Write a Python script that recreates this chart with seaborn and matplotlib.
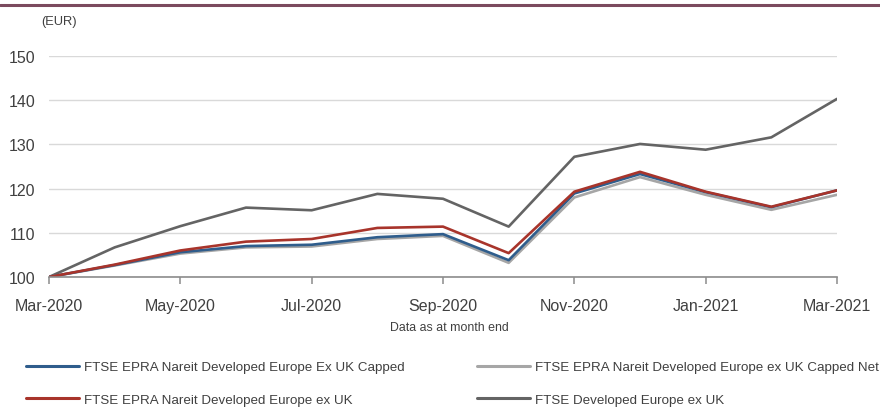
import numpy as np
import pandas as pd
import seaborn as sns
import matplotlib.pyplot as plt
from matplotlib.lines import Line2D

# month labels (month end values)
months = ['Mar-2020', 'Apr-2020', 'May-2020', 'Jun-2020', 'Jul-2020', 'Aug-2020', 'Sep-2020',
          'Oct-2020', 'Nov-2020', 'Dec-2020', 'Jan-2021', 'Feb-2021', 'Mar-2021']

# index levels, rebased to 100
capped = [100, 102.7, 105.6, 107.0, 107.3, 109.0, 109.7, 103.8, 118.9, 123.3, 119.2, 115.8, 119.6]
capped_net = [100, 102.6, 105.3, 106.7, 106.9, 108.6, 109.3, 103.2, 118.0, 122.6, 118.6, 115.2, 118.6]
epra = [100, 102.8, 106.0, 108.0, 108.6, 111.1, 111.4, 105.4, 119.3, 123.8, 119.3, 115.9, 119.6]
developed = [100, 106.7, 111.5, 115.7, 115.1, 118.8, 117.7, 111.4, 127.2, 130.1, 128.8, 131.6, 140.3]

series_names = ['FTSE EPRA Nareit Developed Europe Ex UK Capped',
                'FTSE EPRA Nareit Developed Europe ex UK Capped Net',
                'FTSE EPRA Nareit Developed Europe ex UK',
                'FTSE Developed Europe ex UK']
series_colors = ['#2f5d8c', '#a6a6a6', '#a8342b', '#646464']

sns.set_style('white')
plt.rcParams['font.family'] = ['Liberation Sans', 'DejaVu Sans']

# long table for seaborn
frames = []
for name, vals in zip(series_names, [capped, capped_net, epra, developed]):
    frames.append(pd.DataFrame({'Month': months, 'Value': vals, 'Series': name}))
df = pd.concat(frames, ignore_index=True)

fig = plt.figure(figsize=(8.8, 4.1), dpi=100)
ax = fig.add_axes([49 / 880, 1 - 278 / 410, (837 - 49) / 880, (278 - 57) / 410])

# draw order: dark grey, light grey, blue, red on top
draw_order = [3, 1, 0, 2]
for i in draw_order:
    sub = df[df['Series'] == series_names[i]]
    sns.lineplot(data=sub, x='Month', y='Value', color=series_colors[i], lw=1.9,
                 sort=False, ax=ax, zorder=3 + draw_order.index(i))

ax.set_xlim(0, len(months) - 1)
ax.set_ylim(100, 150)
ax.set_yticks([100, 110, 120, 130, 140, 150])
ax.set_xticks(range(0, len(months), 2))
ax.set_xticklabels(months[::2])
ax.set_xlabel('')
ax.set_ylabel('')

ax.grid(axis='y', color='#d9d9d9', lw=1.0)
ax.grid(axis='x', visible=False)
for side in ['left', 'right', 'top']:
    ax.spines[side].set_visible(False)
ax.spines['bottom'].set_color('#8c8c8c')
ax.spines['bottom'].set_linewidth(1.2)
ax.spines['bottom'].set_zorder(10)

ax.tick_params(axis='x', length=5, width=1.1, color='#8c8c8c', pad=10,
               labelsize=11.5, labelcolor='#404040', direction='out', bottom=True)
ax.tick_params(axis='y', length=0, pad=10, labelsize=11.5, labelcolor='#404040')

fig.text(41 / 880, 1 - 22 / 410, '(EUR)', fontsize=9.3, color='#404040', va='center', ha='left')
fig.text(449 / 880, 1 - 328 / 410, 'Data as at month end', fontsize=8.9, color='#404040',
         va='center', ha='center')

# top rule
fig.add_artist(Line2D([0, 1], [1 - 6 / 410, 1 - 6 / 410], color='#7b4a5e', lw=2.2))

handles = [Line2D([], [], color=series_colors[i], lw=2.2) for i in range(4)]
fig.legend([handles[0], handles[2], handles[1], handles[3]],
           [series_names[0], series_names[2], series_names[1], series_names[3]],
           ncol=2, loc='upper left', bbox_to_anchor=(26 / 880, 1 - 362 / 410),
           frameon=False, fontsize=9.6, handlelength=4.0, handletextpad=0.35,
           labelspacing=1.5, columnspacing=5.4, borderpad=0, borderaxespad=0,
           labelcolor='#404040')

fig.savefig('out.png', dpi=100)
